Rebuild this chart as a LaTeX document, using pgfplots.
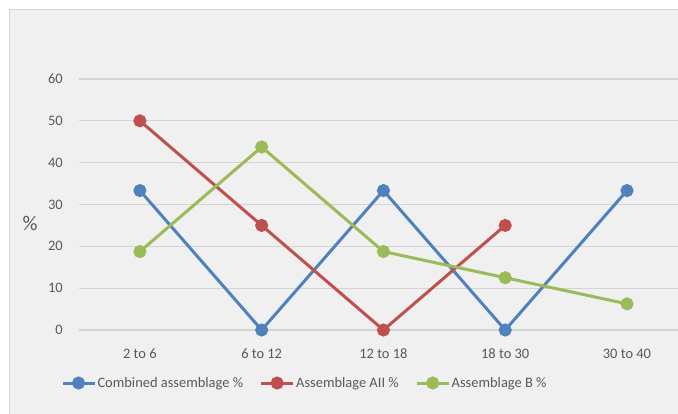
\documentclass[border=0pt]{standalone}
\usepackage{pgfplots}
\pgfplotsset{compat=1.18}
\usepackage{fontspec}
\setmainfont{Carlito}

\definecolor{cblue}{HTML}{4F81BD}
\definecolor{cred}{HTML}{C0504D}
\definecolor{cgreen}{HTML}{9BBB59}
\definecolor{bggray}{HTML}{F0F0F0}
\definecolor{gridgray}{HTML}{D4D4D4}
\definecolor{txtgray}{HTML}{595959}

\begin{document}
\begin{tikzpicture}[x=1bp,y=1bp]
  \useasboundingbox (0,0) rectangle (678,413);
  \fill[white] (0,0) rectangle (678,413);
  \filldraw[fill=bggray, draw=gridgray, line width=1bp] (9,-2) rectangle (680,403);
  \begin{axis}[
      at={(79bp,83bp)}, anchor=south west,
      scale only axis,
      width=599bp, height=251bp,
      xmin=-0.5, xmax=4.419,
      ymin=0, ymax=60,
      ytick={0,10,...,60},
      xtick={0,1,2,3,4},
      xticklabels={2 to 6, 6 to 12, 12 to 18, 18 to 30, 30 to 40},
      axis line style={draw=none},
      ymajorgrids,
      grid style={gridgray, line width=1.1bp},
      major tick length=0pt,
      tick style={draw=none},
      every tick label/.append style={font=\fontsize{14.5}{16}\selectfont, text=txtgray},
      yticklabel style={anchor=east, inner sep=0pt, xshift=-16bp},
      xticklabel style={anchor=base, inner sep=0pt, yshift=-28bp},
      /pgf/number format/assume math mode=true,
      ylabel={\%},
      every axis y label/.style={at={(rel axis cs:0,0.426)}, anchor=center, xshift=-49bp,
        font=\fontsize{21}{24}\selectfont, text=txtgray},
      clip=false,
      legend columns=3,
      legend style={at={(axis description cs:0.3765,-0.2112)}, anchor=center, draw=none, fill=none,
        font=\fontsize{14.5}{16}\selectfont, text=txtgray,
        /tikz/every even column/.append style={column sep=15bp},
        inner sep=0pt, nodes={inner sep=1.5bp}},
      legend cell align=left,
      legend image code/.code={
        \draw[#1, mark=none] (0bp,0bp) -- (32bp,0bp);
        \fill[#1] (16bp,0bp) circle (5bp);
      },
      every axis plot/.append style={line width=3bp, mark=*, mark size=5bp},
    ]
    \addplot[cblue, mark options={fill=cblue, draw=none}] coordinates {
      (0,33.33)(1,0)(2,33.33)(3,0)(4,33.33)
    };
    \addlegendentry{Combined assemblage \%}
    \addplot[cred, mark options={fill=cred, draw=none}] coordinates {
      (0,50)(1,25)(2,0)(3,25)
    };
    \addlegendentry{Assemblage AII \%}
    \addplot[cgreen, mark options={fill=cgreen, draw=none}] coordinates {
      (0,18.75)(1,43.75)(2,18.75)(3,12.5)(4,6.25)
    };
    \addlegendentry{Assemblage B \%}
  \end{axis}
\end{tikzpicture}
\end{document}
